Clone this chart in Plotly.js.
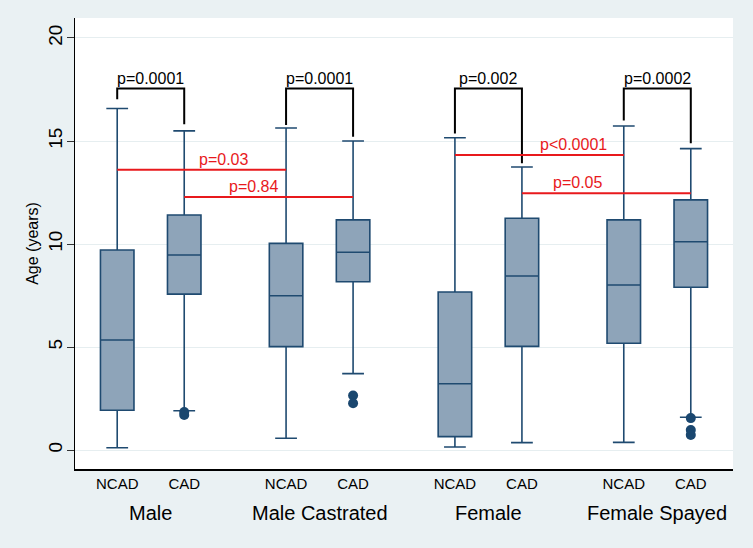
<!DOCTYPE html>
<html>
<head>
<meta charset="utf-8">
<script src="https://cdn.plot.ly/plotly-3.0.1.min.js"></script>
<style>
  html, body { margin: 0; padding: 0; background: #eaf1f3; }
  #chart { width: 753px; height: 548px; }
</style>
</head>
<body>
<div id="chart"></div>
<script>
// Data
const groups = ['Male', 'Male Castrated', 'Female', 'Female Spayed'];
const statuses = ['NCAD', 'CAD'];

// one entry per box, order: Male NCAD, Male CAD, MC NCAD, MC CAD, F NCAD, F CAD, FS NCAD, FS CAD
const lowerWhisker = [0.11, 1.91, 0.57, 3.71, 0.15, 0.36, 0.37, 1.59];
const q1Vals       = [1.93, 7.57, 5.02, 8.17, 0.65, 5.03, 5.18, 7.90];
const medianVals   = [5.34, 9.47, 7.49, 9.60, 3.22, 8.45, 8.01, 10.11];
const q3Vals       = [9.71, 11.41, 10.03, 11.17, 7.67, 11.25, 11.17, 12.14];
const upperWhisker = [16.58, 15.49, 15.63, 15.00, 15.16, 13.74, 15.73, 14.63];

// outliers: box index and value
const outlierBox = [1, 1, 3, 3, 7, 7, 7];
const outlierVal = [1.85, 1.70, 2.65, 2.27, 1.55, 0.97, 0.73];

// NCAD vs CAD within group (black brackets)
const bracketLeft   = [0, 2, 4, 6];
const bracketRight  = [1, 3, 5, 7];
const bracketTop    = 17.55;
const legBottomL    = [17.03, 15.78, 15.37, 15.99];
const legBottomR    = [15.81, 15.21, 13.92, 14.89];
const bracketLabels = ['p=0.0001', 'p=0.0001', 'p=0.002', 'p=0.0002'];

// intact vs neutered (red lines)
const redFrom   = [0, 1, 4, 5];
const redTo     = [2, 3, 6, 7];
const redLevel  = [13.61, 12.28, 14.32, 12.46];
const redLabels = ['p=0.03', 'p=0.84', 'p<0.0001', 'p=0.05'];
const redLabelAt = [0.63, 0.41, 0.70, 0.33]; // fraction along the line

// Layout helpers
const groupStep = 2.52;
const xPos = [];
const tickText = [];
groups.forEach((g, gi) => {
    statuses.forEach((s, si) => {
        xPos.push(gi * groupStep + si);
        tickText.push(s);
    });
});

const boxLine = '#1f4a70';
const boxFill = '#8ea4b9';
const fontFam = '"Liberation Sans", Arial, Helvetica, sans-serif';

const traces = [];

traces.push({
    type: 'box',
    x: xPos,
    q1: q1Vals,
    median: medianVals,
    q3: q3Vals,
    lowerfence: lowerWhisker,
    upperfence: upperWhisker,
    width: 0.5,
    whiskerwidth: 0.65,
    fillcolor: boxFill,
    line: { color: boxLine, width: 1.6 },
    boxpoints: false,
    hoverinfo: 'skip',
    showlegend: false
});

traces.push({
    type: 'scatter',
    mode: 'markers',
    x: outlierBox.map(i => xPos[i]),
    y: outlierVal,
    marker: { color: '#1a476f', size: 10 },
    hoverinfo: 'skip',
    showlegend: false
});

const annotations = [];

// black brackets
bracketLeft.forEach((li, k) => {
    const ri = bracketRight[k];
    traces.push({
        type: 'scatter',
        mode: 'lines',
        x: [xPos[li], xPos[li], xPos[ri], xPos[ri]],
        y: [legBottomL[k], bracketTop, bracketTop, legBottomR[k]],
        line: { color: '#000000', width: 2 },
        hoverinfo: 'skip',
        showlegend: false
    });
    annotations.push({
        x: (xPos[li] + xPos[ri]) / 2,
        y: bracketTop,
        xref: 'x', yref: 'y',
        text: bracketLabels[k],
        showarrow: false,
        yanchor: 'bottom',
        yshift: -1,
        font: { family: fontFam, size: 16, color: '#000000' }
    });
});

// red lines
redFrom.forEach((fi, k) => {
    const ti = redTo[k];
    traces.push({
        type: 'scatter',
        mode: 'lines',
        x: [xPos[fi], xPos[ti]],
        y: [redLevel[k], redLevel[k]],
        line: { color: '#e8191c', width: 2 },
        hoverinfo: 'skip',
        showlegend: false
    });
    annotations.push({
        x: xPos[fi] + (xPos[ti] - xPos[fi]) * redLabelAt[k],
        y: redLevel[k],
        xref: 'x', yref: 'y',
        text: redLabels[k],
        showarrow: false,
        yanchor: 'bottom',
        yshift: 0,
        font: { family: fontFam, size: 16, color: '#e8191c' }
    });
});

// group names under the tick labels
groups.forEach((g, gi) => {
    annotations.push({
        x: gi * groupStep + 0.5,
        y: -0.098,
        xref: 'x', yref: 'paper',
        text: g,
        showarrow: false,
        yanchor: 'middle',
        font: { family: fontFam, size: 20, color: '#000000' }
    });
});

const layout = {
    width: 753,
    height: 548,
    margin: { l: 75, r: 20, t: 18, b: 79 },
    paper_bgcolor: '#eaf1f3',
    plot_bgcolor: '#ffffff',
    font: { family: fontFam, color: '#000000' },
    showlegend: false,
    xaxis: {
        range: [-0.63, 9.19],
        tickvals: xPos,
        ticktext: tickText,
        ticks: '',
        showgrid: false,
        zeroline: false,
        showline: true,
        linecolor: '#000000',
        linewidth: 1.5,
        tickfont: { family: fontFam, size: 15, color: '#000000' }
    },
    yaxis: {
        range: [-0.92, 20.97],
        tickvals: [0, 5, 10, 15, 20],
        tickangle: -90,
        ticks: 'outside',
        ticklen: 7,
        tickcolor: '#333333',
        ticklabelstandoff: -3,
        showgrid: true,
        gridcolor: '#e6eef0',
        gridwidth: 1,
        zeroline: false,
        showline: true,
        linecolor: '#000000',
        linewidth: 1.5,
        tickfont: { family: fontFam, size: 19, color: '#000000' },
        title: { text: 'Age (years)', font: { family: fontFam, size: 16, color: '#000000' }, standoff: 2 }
    },
    annotations: annotations
};

Plotly.newPlot('chart', traces, layout, { displayModeBar: false, staticPlot: true });
</script>
</body>
</html>
